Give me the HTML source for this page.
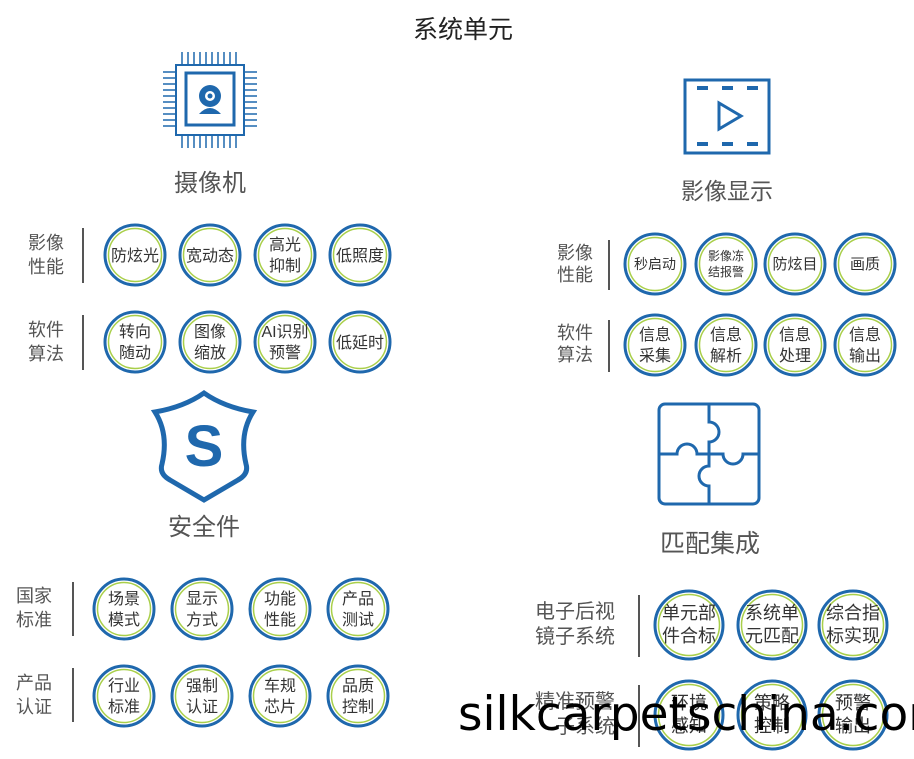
<!DOCTYPE html>
<html><head><meta charset="utf-8"><style>
html,body{margin:0;padding:0;background:#fff;}
svg{display:block;font-family:"Liberation Sans","Noto Sans CJK SC",sans-serif;}
.t{fill:#555;}
</style></head><body>
<svg width="914" height="759" viewBox="0 0 914 759" xmlns="http://www.w3.org/2000/svg">
<defs>
<g id="c"><circle r="30" fill="#fff" stroke="#1f68ad" stroke-width="3"/><circle r="26.5" fill="none" stroke="#a9cf4a" stroke-width="1.5"/></g>
<g id="cb"><circle r="34" fill="#fff" stroke="#1f68ad" stroke-width="3"/><circle r="30.5" fill="none" stroke="#a9cf4a" stroke-width="1.5"/></g>
</defs>
<text x="463" y="38" font-size="25" text-anchor="middle" fill="#222">系统单元</text>

<!-- chip -->
<g stroke="#1f68ad" fill="none">
<rect x="176" y="65" width="68" height="70" stroke-width="2"/>
<rect x="186" y="73" width="48" height="52" stroke-width="3"/>
<g stroke-width="1.5">
<path d="M182 52v13M188 52v13M194 52v13M200 52v13M206 52v13M212 52v13M218 52v13M224 52v13M230 52v13M236 52v13"/>
<path d="M182 135v13M188 135v13M194 135v13M200 135v13M206 135v13M212 135v13M218 135v13M224 135v13M230 135v13M236 135v13"/>
<path d="M163 72h13M163 78h13M163 84h13M163 90h13M163 96h13M163 102h13M163 108h13M163 114h13M163 120h13M163 126h13"/>
<path d="M244 72h13M244 78h13M244 84h13M244 90h13M244 96h13M244 102h13M244 108h13M244 114h13M244 120h13M244 126h13"/>
</g></g>
<circle cx="210" cy="96" r="11" fill="#1f68ad"/><circle cx="210" cy="96" r="5" fill="#fff"/><circle cx="210" cy="96" r="2.5" fill="#1f68ad"/>
<path d="M199 114q11-12 22 0z" fill="#1f68ad"/>
<text x="210" y="191" font-size="24" text-anchor="middle" class="t">摄像机</text>

<!-- video -->
<rect x="685" y="80" width="84" height="73" fill="none" stroke="#1f68ad" stroke-width="3"/>
<g fill="#1f68ad"><rect x="697" y="86" width="11" height="4"/><rect x="722" y="86" width="11" height="4"/><rect x="747" y="86" width="11" height="4"/>
<rect x="697" y="142" width="11" height="4"/><rect x="722" y="142" width="11" height="4"/><rect x="747" y="142" width="11" height="4"/></g>
<path d="M719 103v26l22-13z" fill="none" stroke="#1f68ad" stroke-width="3"/>
<text x="727" y="199" font-size="23" text-anchor="middle" class="t">影像显示</text>

<!-- shield -->
<path d="M204 393q20 14 49 19q-14 22-7 52q3 10-8 16l-34 20-34-20q-11-6-8-16q7-30-7-52q29-5 49-19z" fill="none" stroke="#1f68ad" stroke-width="5"/>
<text x="204" y="466" font-size="58" font-weight="bold" text-anchor="middle" fill="#1f68ad">S</text>
<text x="204" y="535" font-size="24" text-anchor="middle" class="t">安全件</text>

<!-- puzzle -->
<g fill="none" stroke="#1f68ad" stroke-width="3">
<rect x="659" y="404" width="100" height="100" rx="6"/>
<path d="M709 404v18a10 10 0 1 1 0 20v12M659 454h18a10 10 0 1 1 20 0h12M709 454v12a10 10 0 1 0 0 20v18M709 454h14a10 10 0 1 0 20 0h16"/>
</g>
<text x="710" y="552" font-size="25" text-anchor="middle" class="t">匹配集成</text>

<g font-size="18" class="t">
<text x="28" y="249">影像</text><text x="28" y="273">性能</text>
<text x="28" y="336">软件</text><text x="28" y="360">算法</text>
<path d="M83 228v55M83 315v55" stroke="#555" stroke-width="2"/>
<text x="557" y="259">影像</text><text x="557" y="281">性能</text>
<text x="557" y="339">软件</text><text x="557" y="361">算法</text>
<path d="M609 240v50M609 320v52" stroke="#555" stroke-width="2"/>
<text x="16" y="602">国家</text><text x="16" y="626">标准</text>
<text x="16" y="689">产品</text><text x="16" y="713">认证</text>
<path d="M73 582v54M73 668v54" stroke="#555" stroke-width="2"/>
<text x="615" y="618" font-size="20" text-anchor="end">电子后视</text><text x="615" y="643" font-size="20" text-anchor="end">镜子系统</text>
<text x="615" y="708" font-size="20" text-anchor="end">精准预警</text><text x="615" y="733" font-size="20" text-anchor="end">子系统</text>
<path d="M639 595v62M639 685v62" stroke="#555" stroke-width="2"/>
</g>

<g font-size="16" fill="#333" text-anchor="middle">
<use href="#c" x="135" y="255"/><text x="135" y="261">防炫光</text>
<use href="#c" x="210" y="255"/><text x="210" y="261">宽动态</text>
<use href="#c" x="285" y="255"/><text x="285" y="250">高光</text><text x="285" y="271">抑制</text>
<use href="#c" x="360" y="255"/><text x="360" y="261">低照度</text>
<use href="#c" x="135" y="342"/><text x="135" y="337">转向</text><text x="135" y="358">随动</text>
<use href="#c" x="210" y="342"/><text x="210" y="337">图像</text><text x="210" y="358">缩放</text>
<use href="#c" x="285" y="342"/><text x="285" y="337">AI识别</text><text x="285" y="358">预警</text>
<use href="#c" x="360" y="342"/><text x="360" y="348">低延时</text>

<use href="#c" x="655" y="264"/><text x="655" y="269" font-size="14">秒启动</text>
<use href="#c" x="726" y="264"/><text x="726" y="260" font-size="12">影像冻</text><text x="726" y="276" font-size="12">结报警</text>
<use href="#c" x="795" y="264"/><text x="795" y="269" font-size="15">防炫目</text>
<use href="#c" x="865" y="264"/><text x="865" y="269" font-size="15">画质</text>
<use href="#c" x="655" y="345"/><text x="655" y="340">信息</text><text x="655" y="361">采集</text>
<use href="#c" x="726" y="345"/><text x="726" y="340">信息</text><text x="726" y="361">解析</text>
<use href="#c" x="795" y="345"/><text x="795" y="340">信息</text><text x="795" y="361">处理</text>
<use href="#c" x="865" y="345"/><text x="865" y="340">信息</text><text x="865" y="361">输出</text>

<use href="#c" x="124" y="609"/><text x="124" y="604">场景</text><text x="124" y="625">模式</text>
<use href="#c" x="202" y="609"/><text x="202" y="604">显示</text><text x="202" y="625">方式</text>
<use href="#c" x="280" y="609"/><text x="280" y="604">功能</text><text x="280" y="625">性能</text>
<use href="#c" x="358" y="609"/><text x="358" y="604">产品</text><text x="358" y="625">测试</text>
<use href="#c" x="124" y="696"/><text x="124" y="691">行业</text><text x="124" y="712">标准</text>
<use href="#c" x="202" y="696"/><text x="202" y="691">强制</text><text x="202" y="712">认证</text>
<use href="#c" x="280" y="696"/><text x="280" y="691">车规</text><text x="280" y="712">芯片</text>
<use href="#c" x="358" y="696"/><text x="358" y="691">品质</text><text x="358" y="712">控制</text>

<g font-size="18">
<use href="#cb" x="689" y="625"/><text x="689" y="619">单元部</text><text x="689" y="642">件合标</text>
<use href="#cb" x="772" y="625"/><text x="772" y="619">系统单</text><text x="772" y="642">元匹配</text>
<use href="#cb" x="853" y="625"/><text x="853" y="619">综合指</text><text x="853" y="642">标实现</text>
<use href="#cb" x="689" y="715"/><text x="689" y="709">环境</text><text x="689" y="732">感知</text>
<use href="#cb" x="772" y="715"/><text x="772" y="709">策略</text><text x="772" y="732">控制</text>
<use href="#cb" x="853" y="715"/><text x="853" y="709">预警</text><text x="853" y="732">输出</text>
</g>
</g>

<text x="458" y="730" font-size="47" fill="#000" font-family="'DejaVu Sans',sans-serif">silkcarpetschina.com</text>
</svg>
</body></html>
